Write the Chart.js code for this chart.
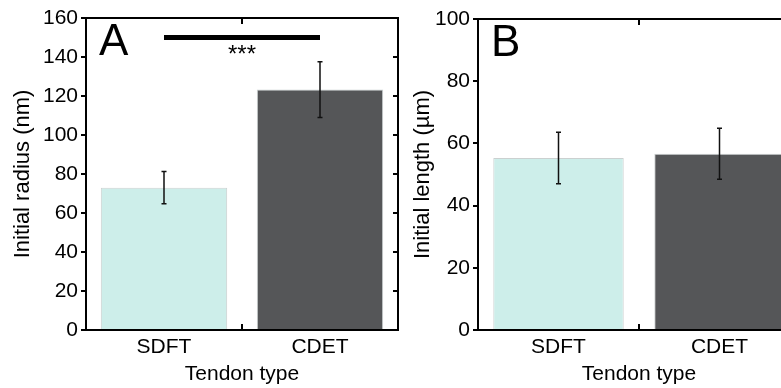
<!DOCTYPE html>
<html>
<head>
<meta charset="utf-8">
<script src="https://cdn.jsdelivr.net/npm/chart.js@4"></script>
<style>
  html, body { margin: 0; padding: 0; background: #fff; }
  body { width: 781px; height: 388px; overflow: hidden; position: relative; }
  .panel { position: absolute; top: 0; }
</style>
</head>
<body>
<div class="panel" style="left:0"><canvas id="chartA" width="400" height="388"></canvas></div>
<div class="panel" style="left:400px"><canvas id="chartB" width="400" height="388"></canvas></div>
<script>
// data
const categories = ['SDFT', 'CDET'];
const radiusMean = [73.0, 123.3];
const radiusErr = [8.3, 14.3];
const lengthMean = [55.3, 56.7];
const lengthErr = [8.3, 8.2];
const radiusTicks = [0, 20, 40, 60, 80, 100, 120, 140, 160];
const lengthTicks = [0, 20, 40, 60, 80, 100];
const sigLevel = 150;   // height of the *** bar in panel A

const barColors = ['#cdeeea', '#555658'];
const font = "'Liberation Sans', Arial, sans-serif";

// frame, mirrored ticks, error bars and panel letters
const extras = {
  id: 'extras',
  afterDatasetsDraw(chart, args, opts) {
    const { ctx, chartArea: a, scales: { x, y } } = chart;
    const ds = chart.data.datasets[0];
    ctx.save();

    // error bars
    ctx.strokeStyle = '#111';
    ctx.lineWidth = 1.5;
    ds.data.forEach((v, i) => {
      const px = x.getPixelForValue(i);
      const top = y.getPixelForValue(v + opts.err[i]);
      const bot = y.getPixelForValue(v - opts.err[i]);
      ctx.beginPath();
      ctx.moveTo(px, top); ctx.lineTo(px, bot);
      ctx.moveTo(px - 2.5, top); ctx.lineTo(px + 2.5, top);
      ctx.moveTo(px - 2.5, bot); ctx.lineTo(px + 2.5, bot);
      ctx.stroke();
    });

    // frame top + right
    ctx.strokeStyle = '#000';
    ctx.lineWidth = 2;
    ctx.beginPath();
    ctx.moveTo(a.left - 1, a.top); ctx.lineTo(a.right, a.top); ctx.lineTo(a.right, a.bottom);
    ctx.stroke();

    // inward ticks on the right
    ctx.beginPath();
    y.ticks.forEach(t => {
      const py = y.getPixelForValue(t.value);
      ctx.moveTo(a.right, py); ctx.lineTo(a.right - 5, py);
    });
    // middle tick on top and bottom
    const mid = (x.getPixelForValue(0) + x.getPixelForValue(1)) / 2;
    ctx.moveTo(mid, a.top); ctx.lineTo(mid, a.top + 6);
    ctx.moveTo(mid, a.bottom); ctx.lineTo(mid, a.bottom - 6);
    ctx.stroke();

    // significance bar
    if (opts.sig != null) {
      const sy = y.getPixelForValue(opts.sig);
      ctx.lineWidth = 5;
      ctx.beginPath();
      ctx.moveTo(x.getPixelForValue(0), sy); ctx.lineTo(x.getPixelForValue(1), sy);
      ctx.stroke();
      ctx.fillStyle = '#000';
      ctx.font = '24px ' + font;
      ctx.textAlign = 'center';
      ctx.textBaseline = 'alphabetic';
      ctx.fillText('***', mid, sy + 24);
    }

    // panel letter
    ctx.fillStyle = '#000';
    ctx.font = '44px ' + font;
    ctx.textAlign = 'left';
    ctx.textBaseline = 'alphabetic';
    ctx.fillText(opts.letter, a.left + 13, a.top + 37);
    ctx.restore();
  }
};

function makeChart(id, values, err, tickVals, yTitle, letter, sig, pad) {
  return new Chart(document.getElementById(id), {
    type: 'bar',
    data: {
      labels: categories,
      datasets: [{
        data: values,
        backgroundColor: barColors,
        borderColor: 'rgba(140,150,150,0.45)',
        borderWidth: 1,
        barPercentage: 0.81,
        categoryPercentage: 1
      }]
    },
    options: {
      responsive: false,
      devicePixelRatio: 1,
      animation: false,
      layout: { padding: pad },
      plugins: {
        legend: { display: false },
        tooltip: { enabled: false },
        extras: { err: err, letter: letter, sig: sig }
      },
      scales: {
        x: {
          grid: { display: false, drawTicks: false },
          border: { display: true, color: '#000', width: 2 },
          ticks: { color: '#000', font: { family: font, size: 21 }, padding: 5 },
          title: { display: true, text: 'Tendon type', color: '#000',
                   font: { family: font, size: 21 }, padding: { top: 0, bottom: 1 } },
          afterFit: s => { s.height = 58; }
        },
        y: {
          min: tickVals[0],
          max: tickVals[tickVals.length - 1],
          afterBuildTicks: s => { s.ticks = tickVals.map(v => ({ value: v })); },
          grid: { drawOnChartArea: false, drawTicks: true, tickLength: 5, color: '#000', lineWidth: 2 },
          border: { display: true, color: '#000', width: 2 },
          ticks: { color: '#000', font: { family: font, size: 21 }, padding: 3 },
          title: { display: true, text: yTitle, color: '#000',
                   font: { family: font, size: 22 }, padding: { top: 10, bottom: 0 } },
          afterFit: s => { s.width = pad.yw; }
        }
      }
    },
    plugins: [extras]
  });
}

makeChart('chartA', radiusMean, radiusErr, radiusTicks, 'Initial radius (nm)', 'A', sigLevel,
  { top: 18, right: 2, left: 0, bottom: 0, yw: 86 });
makeChart('chartB', lengthMean, lengthErr, lengthTicks, 'Initial length (\u00b5m)', 'B', null,
  { top: 19, right: 0, left: 0, bottom: 0, yw: 78 });
</script>
</body>
</html>
